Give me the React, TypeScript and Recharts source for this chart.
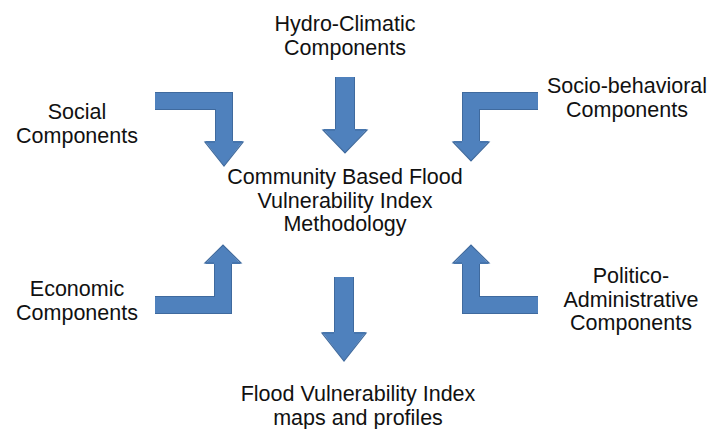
import { ComposedChart, Line, Scatter, XAxis, YAxis } from 'recharts';

const W = 713;
const H = 429;

// arrow shafts: tail -> elbow -> base of the head (chart units = pixels, y down)
const socialArrow = [{ x: 155, y: 101 }, { x: 224, y: 101 }, { x: 224, y: 142 }];
const hydroArrow = [{ x: 345, y: 77 }, { x: 345, y: 130 }];
const socioArrow = [{ x: 538, y: 101 }, { x: 471, y: 101 }, { x: 471, y: 142 }];
const economicArrow = [{ x: 155, y: 305 }, { x: 223, y: 305 }, { x: 223, y: 263 }];
const outcomeArrow = [{ x: 344, y: 277 }, { x: 344, y: 333 }];
const politicoArrow = [{ x: 538, y: 305 }, { x: 471, y: 305 }, { x: 471, y: 263 }];

// arrow tips
const arrowTips = [
  { x: 224, y: 166, dir: 1 },
  { x: 345, y: 153, dir: 1 },
  { x: 471, y: 161, dir: 1 },
  { x: 223, y: 245, dir: -1 },
  { x: 344, y: 361, dir: 1 },
  { x: 471, y: 245, dir: -1 },
];

// text blocks
const labelLines = [
  ['Hydro-Climatic', 'Components'],
  ['Social', 'Components'],
  ['Socio-behavioral', 'Components'],
  ['Community Based Flood', 'Vulnerability Index', 'Methodology'],
  ['Economic', 'Components'],
  ['Politico-', 'Administrative', 'Components'],
  ['Flood Vulnerability Index', 'maps and profiles'],
];
const labelX = [345, 77, 627, 345, 77, 631, 358];
const labelY = [31, 119, 93, 184, 296, 283, 401];

const labels = labelLines.map((lines, i) => ({ x: labelX[i], y: labelY[i], lines }));

const FILL = '#4F81BD';
const EDGE = '#3F6A9E';
const FONT = '"Liberation Sans", Arial, sans-serif';
const headLen = [24, 23, 19, 18, 28, 18];
const headHalf = [19, 22, 18, 18, 22, 18];
const shaftW = [16, 18, 16, 16, 18, 16];

const Head = (p: any) => {
  const i = p.index;
  const { cx, cy } = p;
  const d = p.payload.dir;
  const b = cy - d * headLen[i];
  const h = headHalf[i];
  const s = shaftW[i] / 2 + 1;
  return (
    <g>
      <polygon points={`${cx - h},${b - d} ${cx},${cy} ${cx + h},${b - d}`} fill={FILL} />
      <polyline
        points={`${cx - s},${b} ${cx - h},${b} ${cx},${cy} ${cx + h},${b} ${cx + s},${b}`}
        fill="none"
        stroke={EDGE}
        strokeWidth={1.2}
        strokeLinejoin="miter"
      />
    </g>
  );
};

const TextBlock = (p: any) => (
  <text x={p.cx} y={p.cy} textAnchor="middle" fontFamily={FONT} fontSize={21.5} fill="#111">
    {p.payload.lines.map((l: string, i: number) => (
      <tspan key={i} x={p.cx} dy={i === 0 ? 0 : 23.5}>
        {l}
      </tspan>
    ))}
  </text>
);

const shafts = [socialArrow, hydroArrow, socioArrow, economicArrow, outcomeArrow, politicoArrow];

export default function App() {
  return (
    <div style={{ width: W, height: H, background: '#fff' }}>
      <style>{'body{margin:0}'}</style>
      <ComposedChart width={W} height={H} margin={{ top: 0, right: 0, bottom: 0, left: 0 }}>
        <XAxis type="number" dataKey="x" domain={[0, W]} hide allowDataOverflow />
        <YAxis type="number" dataKey="y" domain={[0, H]} reversed hide allowDataOverflow />
        {shafts.map((s, i) => (
          <Line
            key={'e' + i}
            data={s}
            dataKey="y"
            stroke={EDGE}
            strokeWidth={shaftW[i] + 2}
            strokeLinejoin="miter"
            strokeLinecap="butt"
            dot={false}
            activeDot={false}
            isAnimationActive={false}
          />
        ))}
        {shafts.map((s, i) => (
          <Line
            key={'f' + i}
            data={s}
            dataKey="y"
            stroke={FILL}
            strokeWidth={shaftW[i]}
            strokeLinejoin="miter"
            strokeLinecap="butt"
            dot={false}
            activeDot={false}
            isAnimationActive={false}
          />
        ))}
        <Scatter data={arrowTips} dataKey="y" shape={Head} isAnimationActive={false} />
        <Scatter data={labels} dataKey="y" shape={TextBlock} isAnimationActive={false} />
      </ComposedChart>
    </div>
  );
}
